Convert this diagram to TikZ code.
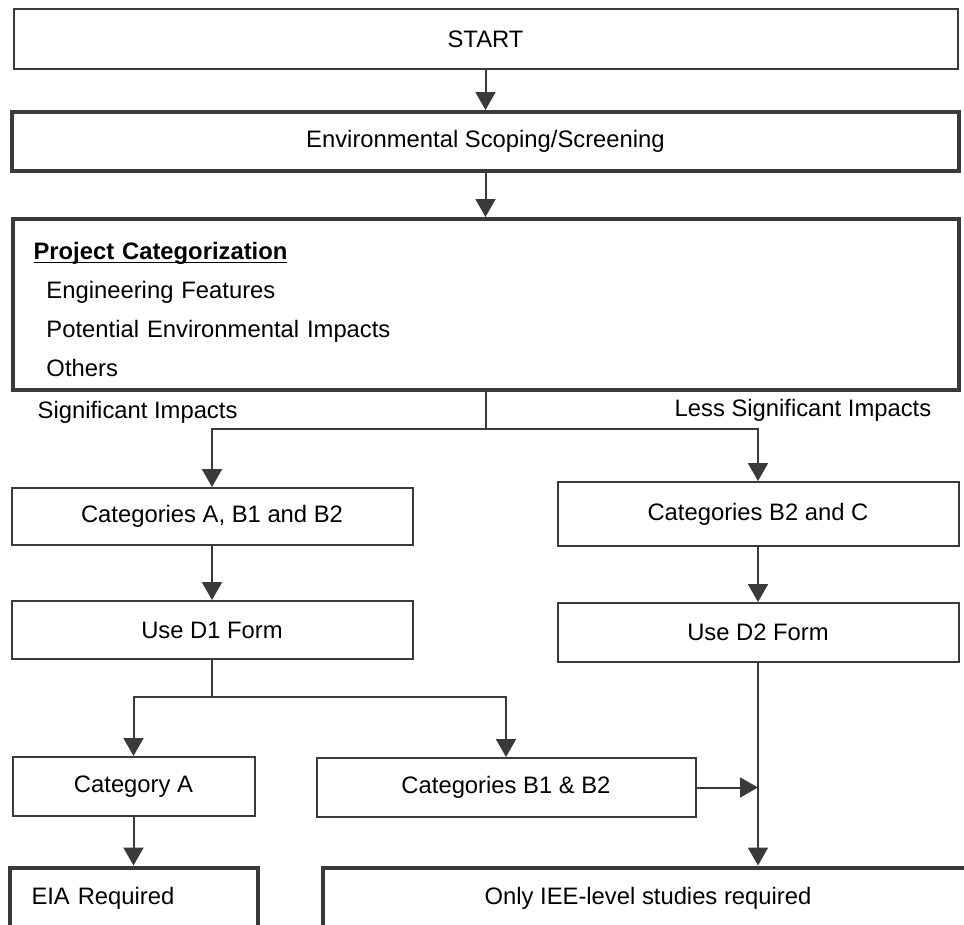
\documentclass[tikz,border=0pt]{standalone}
\usepackage{fontspec}
\setmainfont{Liberation Sans}
\usepackage{amsmath}
\usepackage{color}
\usetikzlibrary{shapes,arrows.meta}
\definecolor{boxgray}{HTML}{3A3A3A}
\tikzstyle{thinbox} = [rectangle, minimum height=58pt, text centered, draw=boxgray, line width=2pt, inner sep=0pt]
\tikzstyle{thickbox} = [rectangle, minimum height=59pt, text centered, draw=boxgray, line width=4pt, inner sep=0pt]
\tikzstyle{impact} = [inner sep=0pt]
\tikzstyle{link} = [line width=2pt, draw=boxgray]
\tikzstyle{arrow} = [line width=2pt, draw=boxgray, -{Triangle[length=18pt,width=20pt]}]

\begin{document}
\begin{tikzpicture}[node distance=100pt, font=\fontsize{23.8}{28.6}\selectfont]
        \clip (0,0) rectangle (964pt,-924pt);
        \node (start) [thinbox, minimum width=944pt, minimum height=60pt] at (485.5pt,-39pt) {START};
        \node (screen) [thickbox, minimum width=947pt, below of=start, yshift=-2.5pt] {Environmental Scoping/Screening};
        \node (categ) [thickbox, minimum width=946pt, minimum height=171pt, text width=904pt, align=left, font=\fontsize{23.8}{39}\selectfont, below of=screen, yshift=-63pt] {\rule{0pt}{27pt}\underline{\smash{\textbf{Project Categorization}}}\\
        \hspace*{13pt}Engineering Features\\
        \hspace*{13pt}Potential Environmental Impacts\\
        \hspace*{13pt}Others};
        \node (sig) [impact, anchor=west] at ([xshift=27pt, yshift=-20pt]categ.south west) {Significant Impacts};
        \node (lesssig) [impact, anchor=east] at ([xshift=-29pt, yshift=-18pt]categ.south east) {Less Significant Impacts};
        \node (catAB) [thinbox, minimum width=401pt, minimum height=57pt, below of=categ, xshift=-273.5pt, yshift=-112pt] {Categories A, B1 and B2};
        \node (catBC) [thinbox, minimum width=401pt, minimum height=64pt, right of=catAB, xshift=446pt, yshift=2.5pt] {Categories B2 and C};
        \node (formD1) [thinbox, minimum width=401pt, below of=catAB, yshift=-13.5pt] {Use D1 Form};
        \node (formD2) [thinbox, minimum width=401pt, minimum height=59pt, below of=catBC, yshift=-18.5pt] {Use D2 Form};
        \node (catA) [thinbox, minimum width=242pt, minimum height=59pt, below of=formD1, xshift=-78.5pt, yshift=-56.5pt] {Category A};
        \node (catB) [thinbox, minimum width=379pt, minimum height=59pt, right of=catA, xshift=272.5pt, yshift=-1pt] {Categories B1 \& B2};
        \node (eia) [thickbox, minimum width=248pt, minimum height=62pt, text width=204pt, align=left, below of=catA, yshift=-12pt] {EIA Required};
        \node (iee) [thickbox, minimum width=650pt, minimum height=62pt, right of=eia, xshift=414.5pt] {Only IEE-level studies required};
        \coordinate (split1) at ([yshift=-37pt]categ.south);
        \coordinate (split2) at ([yshift=-37pt]formD1.south);
        \draw [arrow] (start) -- (screen);
        \draw [arrow] (screen) -- (categ);
        \draw [link] (categ.south) -- (split1);
        \draw [arrow] (split1) -| (catAB.north);
        \draw [arrow] (split1) -| (catBC.north);
        \draw [arrow] (catAB) -- (formD1);
        \draw [arrow] (catBC) -- (formD2);
        \draw [link] (formD1.south) -- (split2);
        \draw [arrow] (split2) -| (catA.north);
        \draw [arrow] (split2) -| (catB.north);
        \draw [arrow] (catA) -- (eia);
        \draw [arrow] (catB.east) -- (catB.east -| formD2.south);
        \draw [arrow] (formD2.south) -- (formD2.south |- iee.north);
    \end{tikzpicture}
\end{document}
